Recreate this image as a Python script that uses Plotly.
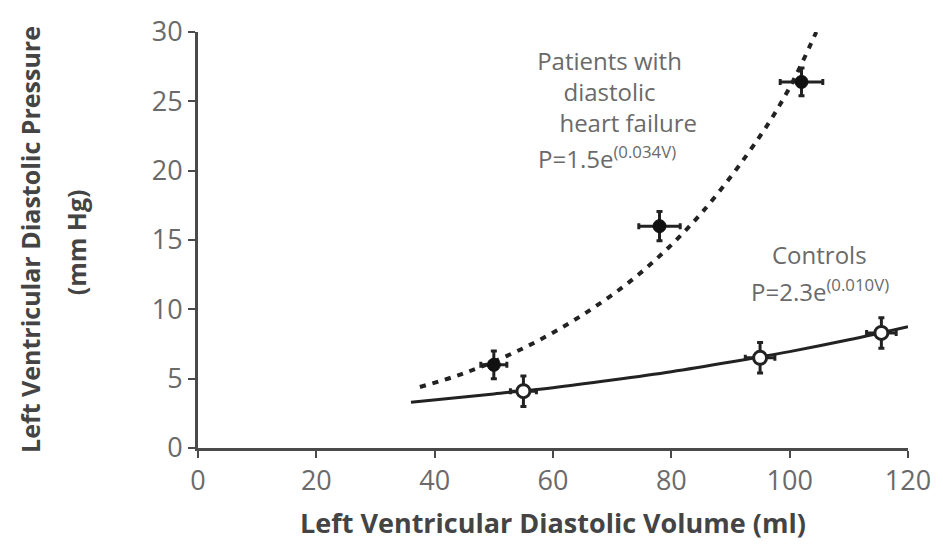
import plotly.graph_objects as go

# Mean values with error bars for each group
hf_volume = [50, 78, 102]
hf_pressure = [6.0, 16.0, 26.4]
hf_volume_err = [2.2, 3.5, 3.6]
hf_pressure_err = [1.0, 1.05, 1.0]

ctrl_volume = [55, 95, 115.5]
ctrl_pressure = [4.1, 6.5, 8.3]
ctrl_volume_err = [2.2, 2.5, 2.5]
ctrl_pressure_err = [1.1, 1.1, 1.1]

# Fitted pressure-volume curves (sampled)
hf_curve_volume = [37.5, 45, 55, 65, 75, 85, 95, 100, 104.5]
hf_curve_pressure = [4.4, 5.4, 7.2, 9.6, 12.7, 16.9, 22.5, 26.0, 30.0]

ctrl_curve_volume = [36, 50, 60, 70, 80, 90, 100, 110, 120]
ctrl_curve_pressure = [3.3, 3.9, 4.35, 4.9, 5.5, 6.2, 6.95, 7.8, 8.75]

x_ticks = [0, 20, 40, 60, 80, 100, 120]
y_ticks = [0, 5, 10, 15, 20, 25, 30]

TEXT_GREY = "#6a6a6a"
TITLE_GREY = "#444444"
AXIS_GREY = "#4a4a4a"
FONT = "Open Sans"

fig = go.Figure()

fig.add_trace(go.Scatter(
    x=hf_curve_volume, y=hf_curve_pressure, mode="lines",
    line=dict(color="#222222", width=4, dash="6px,7px", shape="spline"),
    hoverinfo="skip", showlegend=False,
))
fig.add_trace(go.Scatter(
    x=ctrl_curve_volume, y=ctrl_curve_pressure, mode="lines",
    line=dict(color="#222222", width=3, shape="spline"),
    hoverinfo="skip", showlegend=False,
))

fig.add_trace(go.Scatter(
    x=hf_volume, y=hf_pressure, mode="markers",
    marker=dict(color="#111111", size=13, line=dict(color="#111111", width=1)),
    error_x=dict(type="data", array=hf_volume_err, color="#222222", thickness=3, width=3),
    error_y=dict(type="data", array=hf_pressure_err, color="#222222", thickness=3, width=3),
    showlegend=False, cliponaxis=False,
))
fig.add_trace(go.Scatter(
    x=ctrl_volume, y=ctrl_pressure, mode="markers",
    marker=dict(color="white", size=13, line=dict(color="#222222", width=3)),
    error_x=dict(type="data", array=ctrl_volume_err, color="#222222", thickness=3, width=3),
    error_y=dict(type="data", array=ctrl_pressure_err, color="#222222", thickness=3, width=3),
    showlegend=False, cliponaxis=False,
))

axis_common = dict(
    showline=True, linecolor=AXIS_GREY, linewidth=3,
    ticks="outside", ticklen=7, tickwidth=2, tickcolor=AXIS_GREY,
    showgrid=False, zeroline=False,
    tickfont=dict(family=FONT, size=27, color=TEXT_GREY),
)

fig.update_xaxes(range=[0, 120], tickvals=x_ticks, **axis_common)
fig.update_yaxes(range=[0, 30], tickvals=y_ticks, **axis_common)

def label(text, x, y, size=24, color=TEXT_GREY, angle=0, bold=False):
    fig.add_annotation(
        text=f"<b>{text}</b>" if bold else text,
        x=x, y=y, xref="paper", yref="paper",
        xanchor="center", yanchor="middle", showarrow=False,
        textangle=angle, align="center",
        font=dict(family=FONT, size=size, color=color),
    )

label("Left Ventricular Diastolic Pressure", -0.237, 0.502, size=25, color=TITLE_GREY, angle=-90, bold=True)
label("(mm Hg)", -0.1715, 0.495, size=25, color=TITLE_GREY, angle=-90, bold=True)
label("Left Ventricular Diastolic Volume (ml)", 0.5, -0.178, size=27, color=TITLE_GREY, bold=True)

label("Patients with<br>diastolic<br>" + "\u00a0" * 6 + "heart failure", 0.579, 0.857)
label("P=1.5e<sup>(0.034V)</sup>", 0.576, 0.698)

label("Controls", 0.876, 0.465)
label("P=2.3e<sup>(0.010V)</sup>", 0.876, 0.378)

fig.update_layout(
    width=943, height=544,
    margin=dict(l=198, r=28, t=22, b=96),
    plot_bgcolor="white", paper_bgcolor="white",
)

fig.write_html("out.html")
